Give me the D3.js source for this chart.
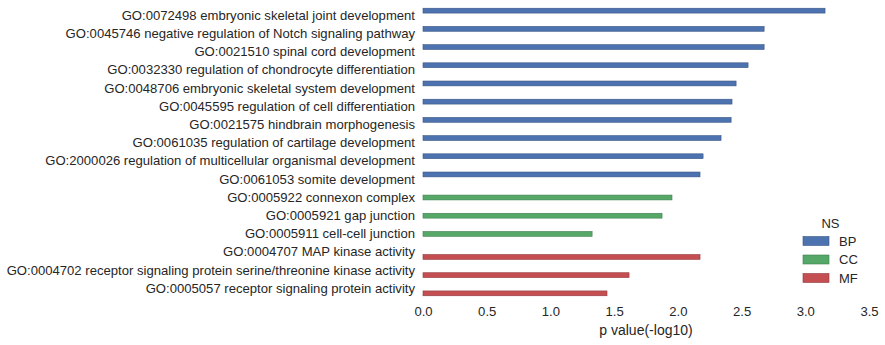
<!DOCTYPE html>
<html>
<head>
<meta charset="utf-8">
<script src="https://cdnjs.cloudflare.com/ajax/libs/d3/7.8.5/d3.min.js"></script>
<style>
html,body{margin:0;padding:0;background:#fff;}
svg text{font-family:"Liberation Sans",Arial,sans-serif;fill:#262626;}
</style>
</head>
<body>
<svg id="chart" width="885" height="345"></svg>
<script>
const terms = [
  "GO:0072498 embryonic skeletal joint development",
  "GO:0045746 negative regulation of Notch signaling pathway",
  "GO:0021510 spinal cord development",
  "GO:0032330 regulation of chondrocyte differentiation",
  "GO:0048706 embryonic skeletal system development",
  "GO:0045595 regulation of cell differentiation",
  "GO:0021575 hindbrain morphogenesis",
  "GO:0061035 regulation of cartilage development",
  "GO:2000026 regulation of multicellular organismal development",
  "GO:0061053 somite development",
  "GO:0005922 connexon complex",
  "GO:0005921 gap junction",
  "GO:0005911 cell-cell junction",
  "GO:0004707 MAP kinase activity",
  "GO:0004702 receptor signaling protein serine/threonine kinase activity",
  "GO:0005057 receptor signaling protein activity"
];
const ns = ["BP","BP","BP","BP","BP","BP","BP","BP","BP","BP","CC","CC","CC","MF","MF","MF"];
const pvals = [3.155, 2.677, 2.677, 2.551, 2.457, 2.425, 2.418, 2.339, 2.198, 2.174, 1.954, 1.876, 1.327, 2.174, 1.617, 1.444];
const groups = ["BP","CC","MF"];
const groupColors = ["#4C72B0","#55A868","#C44E52"];
const xTicks = [0,0.5,1.0,1.5,2.0,2.5,3.0,3.5];
const xLabel = "p value(-log10)";
const legendTitle = "NS";

const svg = d3.select("#chart");
const x = d3.scaleLinear().domain([0,3.5]).range([423,869]);
const y = d3.scaleBand().domain(terms).range([6.4,297.6]).padding(0);
const hue = d3.scaleBand().domain(groups).range([0.1,0.9]);
const color = d3.scaleOrdinal().domain(groups).range(groupColors);

const data = terms.map((t,i)=>({term:t, ns:ns[i], v:pvals[i]}));

svg.append("g").selectAll("rect").data(data).enter().append("rect")
  .attr("x", x(0))
  .attr("y", d => y(d.term) + hue(d.ns)*y.bandwidth())
  .attr("width", d => x(d.v)-x(0))
  .attr("height", hue.bandwidth()*y.bandwidth())
  .attr("fill", d => color(d.ns))
  .attr("stroke", d => d3.color(color(d.ns)).darker(0.8))
  .attr("stroke-width", 0.6);

// y axis labels
const yAxis = d3.axisLeft(y).tickSize(0).tickPadding(8);
const gy = svg.append("g").attr("transform",`translate(${x(0)},0)`).call(yAxis);
gy.select(".domain").remove();
gy.selectAll("text").style("font-size","13.1px").attr("fill","#262626");

// x axis
const xAxis = d3.axisBottom(x).tickValues(xTicks).tickFormat(d3.format(".1f")).tickSize(0).tickPadding(9);
const gx = svg.append("g").attr("transform","translate(0,297.6)").call(xAxis);
gx.select(".domain").remove();
gx.selectAll("text").style("font-size","13.1px").attr("fill","#262626");

svg.append("text").attr("x",(x(0)+x(3.5))/2).attr("y",335).attr("text-anchor","middle")
  .style("font-size","14px").text(xLabel);

// legend
const lg = svg.append("g");
lg.append("text").attr("x",830.5).attr("y",228).attr("text-anchor","middle").style("font-size","13px").text(legendTitle);
groups.forEach((g,i)=>{
  const cy = 241 + i*18.5;
  lg.append("rect").attr("x",803).attr("y",cy-4.5).attr("width",26).attr("height",9)
    .attr("fill",color(g)).attr("stroke",d3.color(color(g)).darker(0.8)).attr("stroke-width",0.6);
  lg.append("text").attr("x",839).attr("y",cy+4.5).style("font-size","13px").text(g);
});
</script>
</body>
</html>
